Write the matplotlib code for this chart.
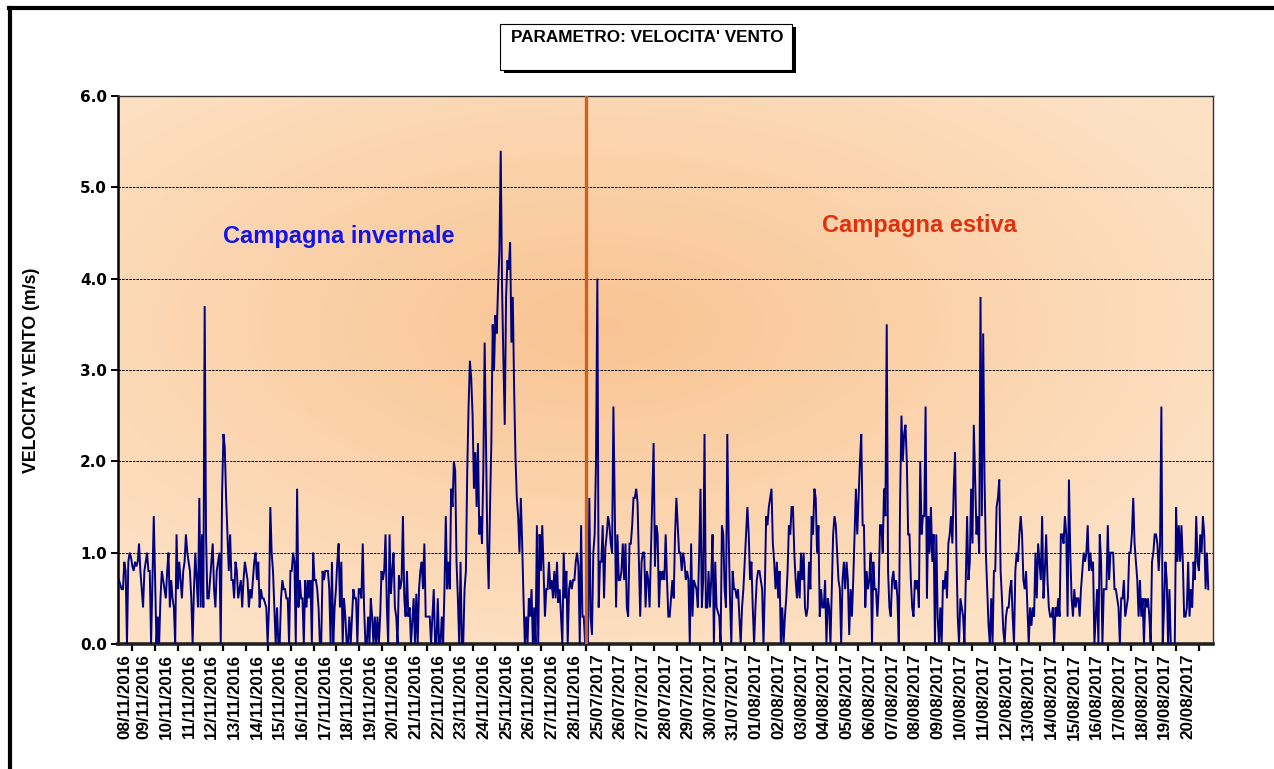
import numpy as np
import pandas as pd
import matplotlib
matplotlib.use("Agg")
import matplotlib.pyplot as plt
from matplotlib.patches import Rectangle
from matplotlib.lines import Line2D

# ---------------- data ----------------
winter_speed = [
    # 08/11 - 13/11
    0.7,0.65,0.6,0.6,0.9,0.8,0.0,0.9,1.0,0.95,
    0.85,0.8,0.9,0.85,0.9,1.1,0.8,0.6,0.4,0.8,
    0.9,1.0,0.8,0.8,0.0,0.7,1.4,0.7,0.0,0.3,
    0.0,0.5,0.8,0.7,0.6,0.5,0.8,1.0,0.4,0.7,
    0.5,0.4,0.0,1.2,0.6,0.9,0.7,0.5,0.8,0.9,
    1.2,1.0,0.9,0.8,0.5,0.0,0.6,1.0,0.7,0.4,
    1.6,0.4,1.2,0.4,3.7,1.2,0.5,0.5,0.7,0.9,
    1.1,0.6,0.4,0.8,0.9,1.0,0.0,1.65,2.3,2.15,
    1.6,1.2,0.8,1.2,0.7,0.7,0.5,0.9,0.8,0.5,
    0.6,0.7,0.4,0.7,0.9,0.8,0.7,0.4,
    # 14/11 - 19/11
    0.6,0.5,0.7,0.9,1.0,0.7,0.9,0.4,0.6,0.5,
    0.5,0.45,0.4,0.0,0.4,1.5,1.0,0.8,0.4,0.0,
    0.4,0.0,0.0,0.5,0.7,0.6,0.6,0.5,0.5,0.0,
    0.8,0.8,1.0,0.9,0.0,1.7,0.4,0.7,0.5,0.5,
    0.0,0.7,0.4,0.7,0.5,0.7,0.0,1.0,0.7,0.7,
    0.6,0.4,0.0,0.0,0.8,0.7,0.8,0.8,0.8,0.6,
    0.0,0.9,0.0,0.4,0.6,0.9,1.1,0.4,0.9,0.0,
    0.5,0.3,0.0,0.0,0.3,0.0,0.3,0.6,0.5,0.5,
    0.0,0.6,0.6,0.5,1.1,0.4,0.0,0.0,0.3,0.0,
    0.5,0.3,0.0,0.3,0.0,0.3,0.0,0.3,0.8,0.7,
    0.8,1.2,
    # 20/11 - 25/11
    0.4,0.0,1.2,0.55,0.8,1.0,0.4,0.3,0.0,0.75,
    0.6,0.7,1.4,0.5,0.3,0.8,0.3,0.4,0.0,0.25,
    0.5,0.0,0.55,0.0,0.6,0.8,0.9,0.6,1.1,0.3,
    0.3,0.3,0.3,0.0,0.3,0.6,0.0,0.0,0.5,0.0,
    0.0,0.3,0.0,0.6,1.4,0.6,0.9,0.6,1.7,1.5,
    2.0,1.9,0.9,0.5,0.0,0.9,0.0,0.0,0.6,0.8,
    1.9,2.6,3.1,2.9,2.5,1.7,2.1,1.5,2.2,1.2,
    1.4,1.1,1.9,3.3,2.2,1.1,0.6,1.5,2.2,3.5,
    3.0,3.6,3.4,3.9,4.3,5.4,3.9,3.1,2.4,3.8,
    4.2,4.1,4.4,3.3,3.8,2.8,2.05,1.6,1.4,1.0,1.6,
    # 25/11 - 28/11
    1.1,0.5,0.0,0.3,0.0,0.5,0.3,0.6,0.0,0.4,
    0.0,1.3,0.0,1.2,0.8,1.3,0.8,0.3,0.6,0.6,
    0.9,0.6,0.7,0.5,0.8,0.5,0.9,0.45,0.6,0.3,
    0.0,1.0,0.5,0.8,0.0,0.6,0.7,0.6,0.7,0.7,
    0.9,1.0,0.85,0.0,1.3,0.3,0.3,0.0,
]

summer_speed = [
    # 25/07 - 27/07
    0.0,1.6,0.3,0.1,1.0,1.2,2.0,4.0,0.4,0.9,
    0.9,1.3,0.5,1.05,1.2,1.4,1.3,1.1,1.0,2.6,
    1.5,0.4,1.2,0.7,0.7,0.8,1.1,0.7,1.1,0.4,
    0.3,1.1,1.1,1.3,1.6,1.6,1.7,1.55,0.9,0.3,
    0.9,1.0,1.0,0.4,0.8,0.7,0.4,1.0,1.6,2.2,0.85,
    # 27/07 - 02/08
    1.3,1.2,0.4,0.8,0.7,0.8,0.7,1.2,0.7,0.3,
    0.3,0.5,0.7,0.5,1.2,1.6,1.3,1.0,1.0,0.8,
    1.0,0.9,0.7,0.8,0.7,0.0,1.1,0.3,0.7,0.65,
    0.6,0.4,1.0,1.7,0.4,0.7,2.3,0.4,0.4,0.8,
    0.4,0.7,1.2,0.0,0.9,0.4,0.35,0.3,0.0,1.3,
    1.2,0.6,0.4,2.3,1.2,0.5,0.0,0.8,0.6,0.6,
    0.5,0.6,0.3,0.0,0.4,0.6,0.9,1.2,1.5,1.2,
    0.7,0.9,0.4,0.0,0.4,0.7,0.8,0.8,0.7,0.6,
    0.0,0.6,1.4,1.3,1.5,1.6,1.7,1.1,0.9,0.6,
    0.9,0.5,0.8,0.0,0.4,0.0,0.3,0.5,0.8,1.3,
    # 02/08 - 08/08
    1.2,1.5,1.5,1.0,0.7,0.5,0.8,0.5,1.0,0.7,
    1.0,0.4,0.3,0.4,0.9,0.6,1.4,1.2,1.7,1.6,
    1.0,1.3,0.3,0.6,0.4,0.4,0.7,0.0,0.5,0.4,
    0.0,0.6,1.2,1.4,1.3,1.0,0.7,0.6,0.0,0.7,
    0.9,0.6,0.9,0.7,0.1,0.6,0.3,0.7,1.2,1.7,
    1.2,1.6,2.0,2.3,1.3,1.3,0.4,0.8,0.6,0.7,
    1.0,0.0,0.9,0.6,0.6,0.3,0.6,1.3,1.3,1.0,
    1.7,1.4,3.5,0.8,0.4,0.3,0.7,0.8,0.6,0.7,
    0.5,0.0,1.6,2.5,2.0,2.3,2.4,2.0,1.2,1.2,
    0.7,0.4,0.3,0.7,0.6,0.7,0.4,2.0,1.2,1.4,
    # 08/08 - 14/08
    1.4,2.6,0.5,1.4,1.0,1.5,0.9,1.2,0.0,1.2,
    0.3,0.0,0.4,0.0,0.7,0.6,0.8,0.5,1.1,1.2,
    1.4,1.1,1.7,2.1,1.0,0.3,0.0,0.5,0.4,0.3,
    0.0,0.7,1.4,0.7,0.9,1.7,1.1,2.4,1.8,1.2,
    1.4,1.0,3.8,1.4,3.4,1.8,1.0,0.6,0.2,0.0,
    0.5,0.0,0.8,0.8,1.5,1.6,1.8,0.8,0.5,0.15,
    0.0,0.3,0.4,0.4,0.6,0.7,0.3,0.0,0.8,1.0,
    0.9,1.2,1.4,1.2,0.7,0.6,0.8,0.4,0.0,0.4,
    0.2,0.4,0.3,1.0,0.5,1.1,0.9,0.7,1.4,0.5,
    0.8,1.2,0.7,0.4,0.3,0.3,0.4,0.0,0.4,0.3,0.5,
    # 14/08 - 21/08
    0.3,1.2,1.2,1.1,1.4,1.2,0.3,1.8,1.0,0.5,
    0.3,0.6,0.4,0.5,0.5,0.3,0.6,0.8,1.0,0.9,
    1.0,1.3,0.8,1.0,0.8,0.9,0.0,0.3,0.6,0.0,
    1.2,0.9,0.0,0.6,0.6,0.6,1.3,0.7,1.0,1.0,
    1.0,0.6,0.6,0.5,0.4,0.0,0.5,0.5,0.7,0.3,
    0.4,0.5,1.0,1.0,1.2,1.6,1.1,0.9,0.7,0.3,
    0.7,0.3,0.5,0.0,0.5,0.4,0.5,0.3,0.0,0.9,
    1.0,1.2,1.2,1.1,0.8,1.1,2.6,0.0,0.4,0.9,
    0.7,0.0,0.6,0.0,0.0,0.0,0.0,1.5,0.9,1.3,
    0.9,1.3,0.9,0.3,0.3,0.4,0.9,0.3,0.6,0.4,
    0.9,0.7,1.4,0.9,0.8,1.2,1.0,1.4,1.2,0.6,1.0,0.6,
]

winter_first, winter_last = "2016-11-08 10:00", "2016-11-28 23:00"
summer_first, summer_last = "2017-07-25 02:00", "2017-08-21 10:00"
axis_start_winter = pd.Timestamp("2016-11-08 09:00")
winter_axis_end = pd.Timestamp("2016-11-29 00:00")
summer_axis_start = pd.Timestamp("2017-07-25 00:00")
summer_axis_end = pd.Timestamp("2017-08-21 15:00")

winter_days = pd.date_range("2016-11-08", "2016-11-28", freq="D")
summer_days = pd.date_range("2017-07-25", "2017-08-20", freq="D")

title_text = "PARAMETRO: VELOCITA' VENTO"
y_label = "VELOCITA' VENTO (m/s)"
label_winter = "Campagna invernale"
label_summer = "Campagna estiva"

# ---------------- axis mapping (two campaigns side by side) ----------------
one_day = pd.Timedelta("1D")
split = (winter_axis_end - axis_start_winter) / one_day
x_max = split + (summer_axis_end - summer_axis_start) / one_day

t_w = pd.date_range(winter_first, winter_last, periods=len(winter_speed))
t_s = pd.date_range(summer_first, summer_last, periods=len(summer_speed))
x_w = np.asarray((t_w - axis_start_winter) / one_day)
x_s = split + np.asarray((t_s - summer_axis_start) / one_day)

def wpos(d):
    return (d - axis_start_winter) / one_day

def spos(d):
    return split + (d - summer_axis_start) / one_day

label_pos, label_txt = [], []
for d in winter_days:
    a, b = max(0.0, wpos(d)), wpos(d + one_day)
    label_pos.append((a + b) / 2); label_txt.append(d.strftime("%d/%m/%Y"))
for d in summer_days:
    a, b = spos(d), min(x_max, spos(d + one_day))
    label_pos.append((a + b) / 2); label_txt.append(d.strftime("%d/%m/%Y"))
boundaries = [wpos(d + one_day) for d in winter_days] + \
             [spos(d + one_day) for d in summer_days]

# ---------------- figure ----------------
W, H = 1274, 769
fig = plt.figure(figsize=(W / 100, H / 100), dpi=100)
fig.patch.set_facecolor("white")

def fx(px):
    return px / W

def fy(py):
    return 1 - py / H

ax = fig.add_axes([fx(118), fy(644), fx(1213) - fx(118), fy(96) - fy(644)])

# radial gradient background
ny, nx = 300, 600
gx = np.linspace(0, 1, nx)[None, :]
gy = np.linspace(0, 1, ny)[:, None]
r = np.sqrt(((gx - 0.44) / 0.62) ** 2 + ((gy - 0.58) / 0.62) ** 2)
r = np.clip(r, 0, 1)
c_center = np.array([249, 196, 146]) / 255
c_edge = np.array([253, 225, 196]) / 255
img = c_center[None, None, :] * (1 - r[..., None]) + c_edge[None, None, :] * r[..., None]
ax.imshow(img, extent=[0, x_max, 0, 6], aspect="auto", origin="lower", zorder=0,
          interpolation="bilinear")

for v in range(1, 6):
    ax.axhline(v, color="black", lw=0.7, ls=(0, (2.5, 1.2)), zorder=1)

ax.plot(x_w, winter_speed, color="#00007F", lw=1.4, zorder=3, solid_joinstyle="miter")
ax.plot(x_s, summer_speed, color="#00007F", lw=1.4, zorder=3, solid_joinstyle="miter")
ax.axvline(split, color="#CC6222", lw=2.4, zorder=4)

ax.set_xlim(0, x_max)
ax.set_ylim(0, 6)

ax.set_xticks(label_pos)
ax.set_xticklabels(label_txt, rotation=90, fontsize=12.3, fontweight="bold",
                   family="Liberation Sans", va="top", ha="center")
ax.set_xticks(boundaries, minor=True)
ax.tick_params(axis="x", which="major", length=0, pad=7)
ax.tick_params(axis="x", which="minor", length=5, width=1.6, color="black", direction="out")

ax.set_yticks(range(0, 7))
ax.set_yticklabels([f"{v:.1f}" for v in range(0, 7)], fontsize=11,
                   fontweight="bold", family="DejaVu Sans")
ax.tick_params(axis="y", length=5, width=1.4, direction="out", pad=3)

ax.set_ylabel(y_label, fontsize=12.8, fontweight="bold", family="Liberation Sans")
ax.yaxis.set_label_coords((40 - 118) / 1095, 0.5)

for s in ["top", "right"]:
    ax.spines[s].set_color("#333333")
    ax.spines[s].set_linewidth(1.0)
ax.spines["left"].set_linewidth(1.8)
ax.spines["bottom"].set_linewidth(2.6)
ax.spines["bottom"].set_color("#222222")

ax.text(0.2015, 0.7445, label_winter, transform=ax.transAxes, color="#1414E8",
        fontsize=17, fontweight="bold", family="Liberation Sans", ha="center", va="center")
ax.text(0.7315, 0.764, label_summer, transform=ax.transAxes, color="#E2300C",
        fontsize=17, fontweight="bold", family="Liberation Sans", ha="center", va="center")

# title box with shadow
fig.add_artist(Rectangle((fx(504), fy(73)), fx(796) - fx(504), fy(27) - fy(73),
                         facecolor="black", edgecolor="none", transform=fig.transFigure))
fig.add_artist(Rectangle((fx(500), fy(70)), fx(792) - fx(500), fy(24) - fy(70),
                         facecolor="white", edgecolor="black", lw=0.8,
                         transform=fig.transFigure))
fig.text(fx(647), fy(38), title_text, fontsize=12.3, fontweight="bold",
         family="Liberation Sans", ha="center", va="center")

# outer frame
fig.add_artist(Line2D([fx(10), fx(10)], [fy(8), fy(769)], color="black", lw=3,
                      transform=fig.transFigure))
fig.add_artist(Line2D([fx(9), fx(1274)], [fy(8), fy(8)], color="black", lw=3,
                      transform=fig.transFigure))

fig.savefig("out.png", dpi=100)
